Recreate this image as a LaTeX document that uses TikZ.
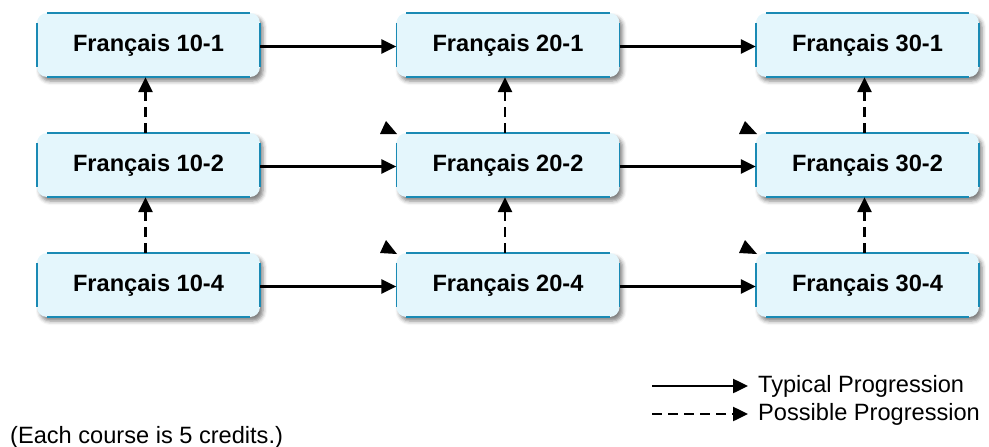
\documentclass[tikz,border=0pt]{standalone}
\usepackage{fontspec}
\setmainfont{Liberation Sans}
\usetikzlibrary{arrows.meta,shadows.blur}
\definecolor{boxfill}{HTML}{E4F6FC}
\definecolor{boxedge}{HTML}{1A8AB4}
\tikzset{
  course/.style={rounded corners=10pt, fill=boxfill, minimum width=223pt, minimum height=64pt,
    inner sep=0pt, font=\bfseries\fontsize{23.6}{28}\selectfont,
    blur shadow={shadow xshift=3pt, shadow yshift=-4pt, shadow blur radius=4pt, shadow opacity=50}},
  edgeline/.style={boxedge, line width=2pt},
  sideline/.style={boxedge, line width=1.5pt},
  typical/.style={line width=2.8pt, -{Triangle[length=15pt,width=14pt]}},
  possible/.style={typical, dash pattern=on 10pt off 6pt},
  legtext/.style={font=\fontsize{23.6}{28}\selectfont, inner xsep=10pt, inner ysep=0pt, anchor=west},
  stray/.style={fill=black},
}
\newcommand\courseedges[1]{%
  \draw[edgeline] ([xshift=10pt]#1.north west) -- ([xshift=-10pt]#1.north east);
  \draw[edgeline] ([xshift=10pt]#1.south west) -- ([xshift=-10pt]#1.south east);
  \draw[sideline] ([yshift=-10pt]#1.north west) -- ([yshift=10pt]#1.south west);
  \draw[sideline] ([yshift=-10pt]#1.north east) -- ([yshift=10pt]#1.south east);
}
\begin{document}
\begin{tikzpicture}[x=1pt,y=-1pt]
\useasboundingbox (0,0) rectangle (989,447);
% boxes
\node[course] (a1) at (148.5,45) {Français 10-1};
\node[course] (a2) at (148.5,165) {Français 10-2};
\node[course] (a4) at (148.5,285) {Français 10-4};
\node[course] (b1) at (508,45) {Français 20-1};
\node[course] (b2) at (508,165) {Français 20-2};
\node[course] (b4) at (508,285) {Français 20-4};
\node[course] (c1) at (867.5,45) {Français 30-1};
\node[course] (c2) at (867.5,165) {Français 30-2};
\node[course] (c4) at (867.5,285) {Français 30-4};
\foreach \n in {a1,a2,a4,b1,b2,b4,c1,c2,c4} {\courseedges{\n}}
% typical progressions
\draw[typical] ([yshift=-1.5pt]a1.east) -- ([yshift=-1.5pt]b1.west);
\draw[typical] ([yshift=-1.5pt]b1.east) -- ([yshift=-1.5pt]c1.west);
\draw[typical] ([yshift=-1.5pt]a2.east) -- ([yshift=-1.5pt]b2.west);
\draw[typical] ([yshift=-1.5pt]b2.east) -- ([yshift=-1.5pt]c2.west);
\draw[typical] ([yshift=-1.5pt]a4.east) -- ([yshift=-1.5pt]b4.west);
\draw[typical] ([yshift=-1.5pt]b4.east) -- ([yshift=-1.5pt]c4.west);
% possible progressions
\draw[possible] ([xshift=-3pt]a4.north) -- ([xshift=-3pt]a2.south);
\draw[possible] ([xshift=-3pt]a2.north) -- ([xshift=-3pt]a1.south);
\draw[possible] ([xshift=-3pt]b4.north) -- ([xshift=-3pt]b2.south);
\draw[possible] ([xshift=-3pt]b2.north) -- ([xshift=-3pt]b1.south);
\draw[possible] ([xshift=-3pt]c4.north) -- ([xshift=-3pt]c2.south);
\draw[possible] ([xshift=-3pt]c2.north) -- ([xshift=-3pt]c1.south);
% stray arrowheads
\fill[stray] (380,134) -- (386,121) -- (397,134) -- cycle;
\fill[stray] (739,134) -- (745,121) -- (757,134) -- cycle;
\fill[stray] (380,253) -- (386,240) -- (397,254) -- cycle;
\fill[stray] (739,253) -- (745,240) -- (757,254) -- cycle;
% legend
\coordinate (l1) at (652,386);
\coordinate (l2) at (652,414);
\node[legtext] (leg1) at (748,386) {Typical Progression};
\node[legtext] (leg2) at (748,414) {Possible Progression};
\draw[typical, line width=2.5pt] (l1) -- (leg1);
\draw[possible, line width=2.5pt] (l2) -- (leg2);
\node[anchor=base west, inner sep=0pt, font=\fontsize{23.6}{28}\selectfont] (note) at (10,443) {(Each course is 5 credits.)};
\end{tikzpicture}
\end{document}
